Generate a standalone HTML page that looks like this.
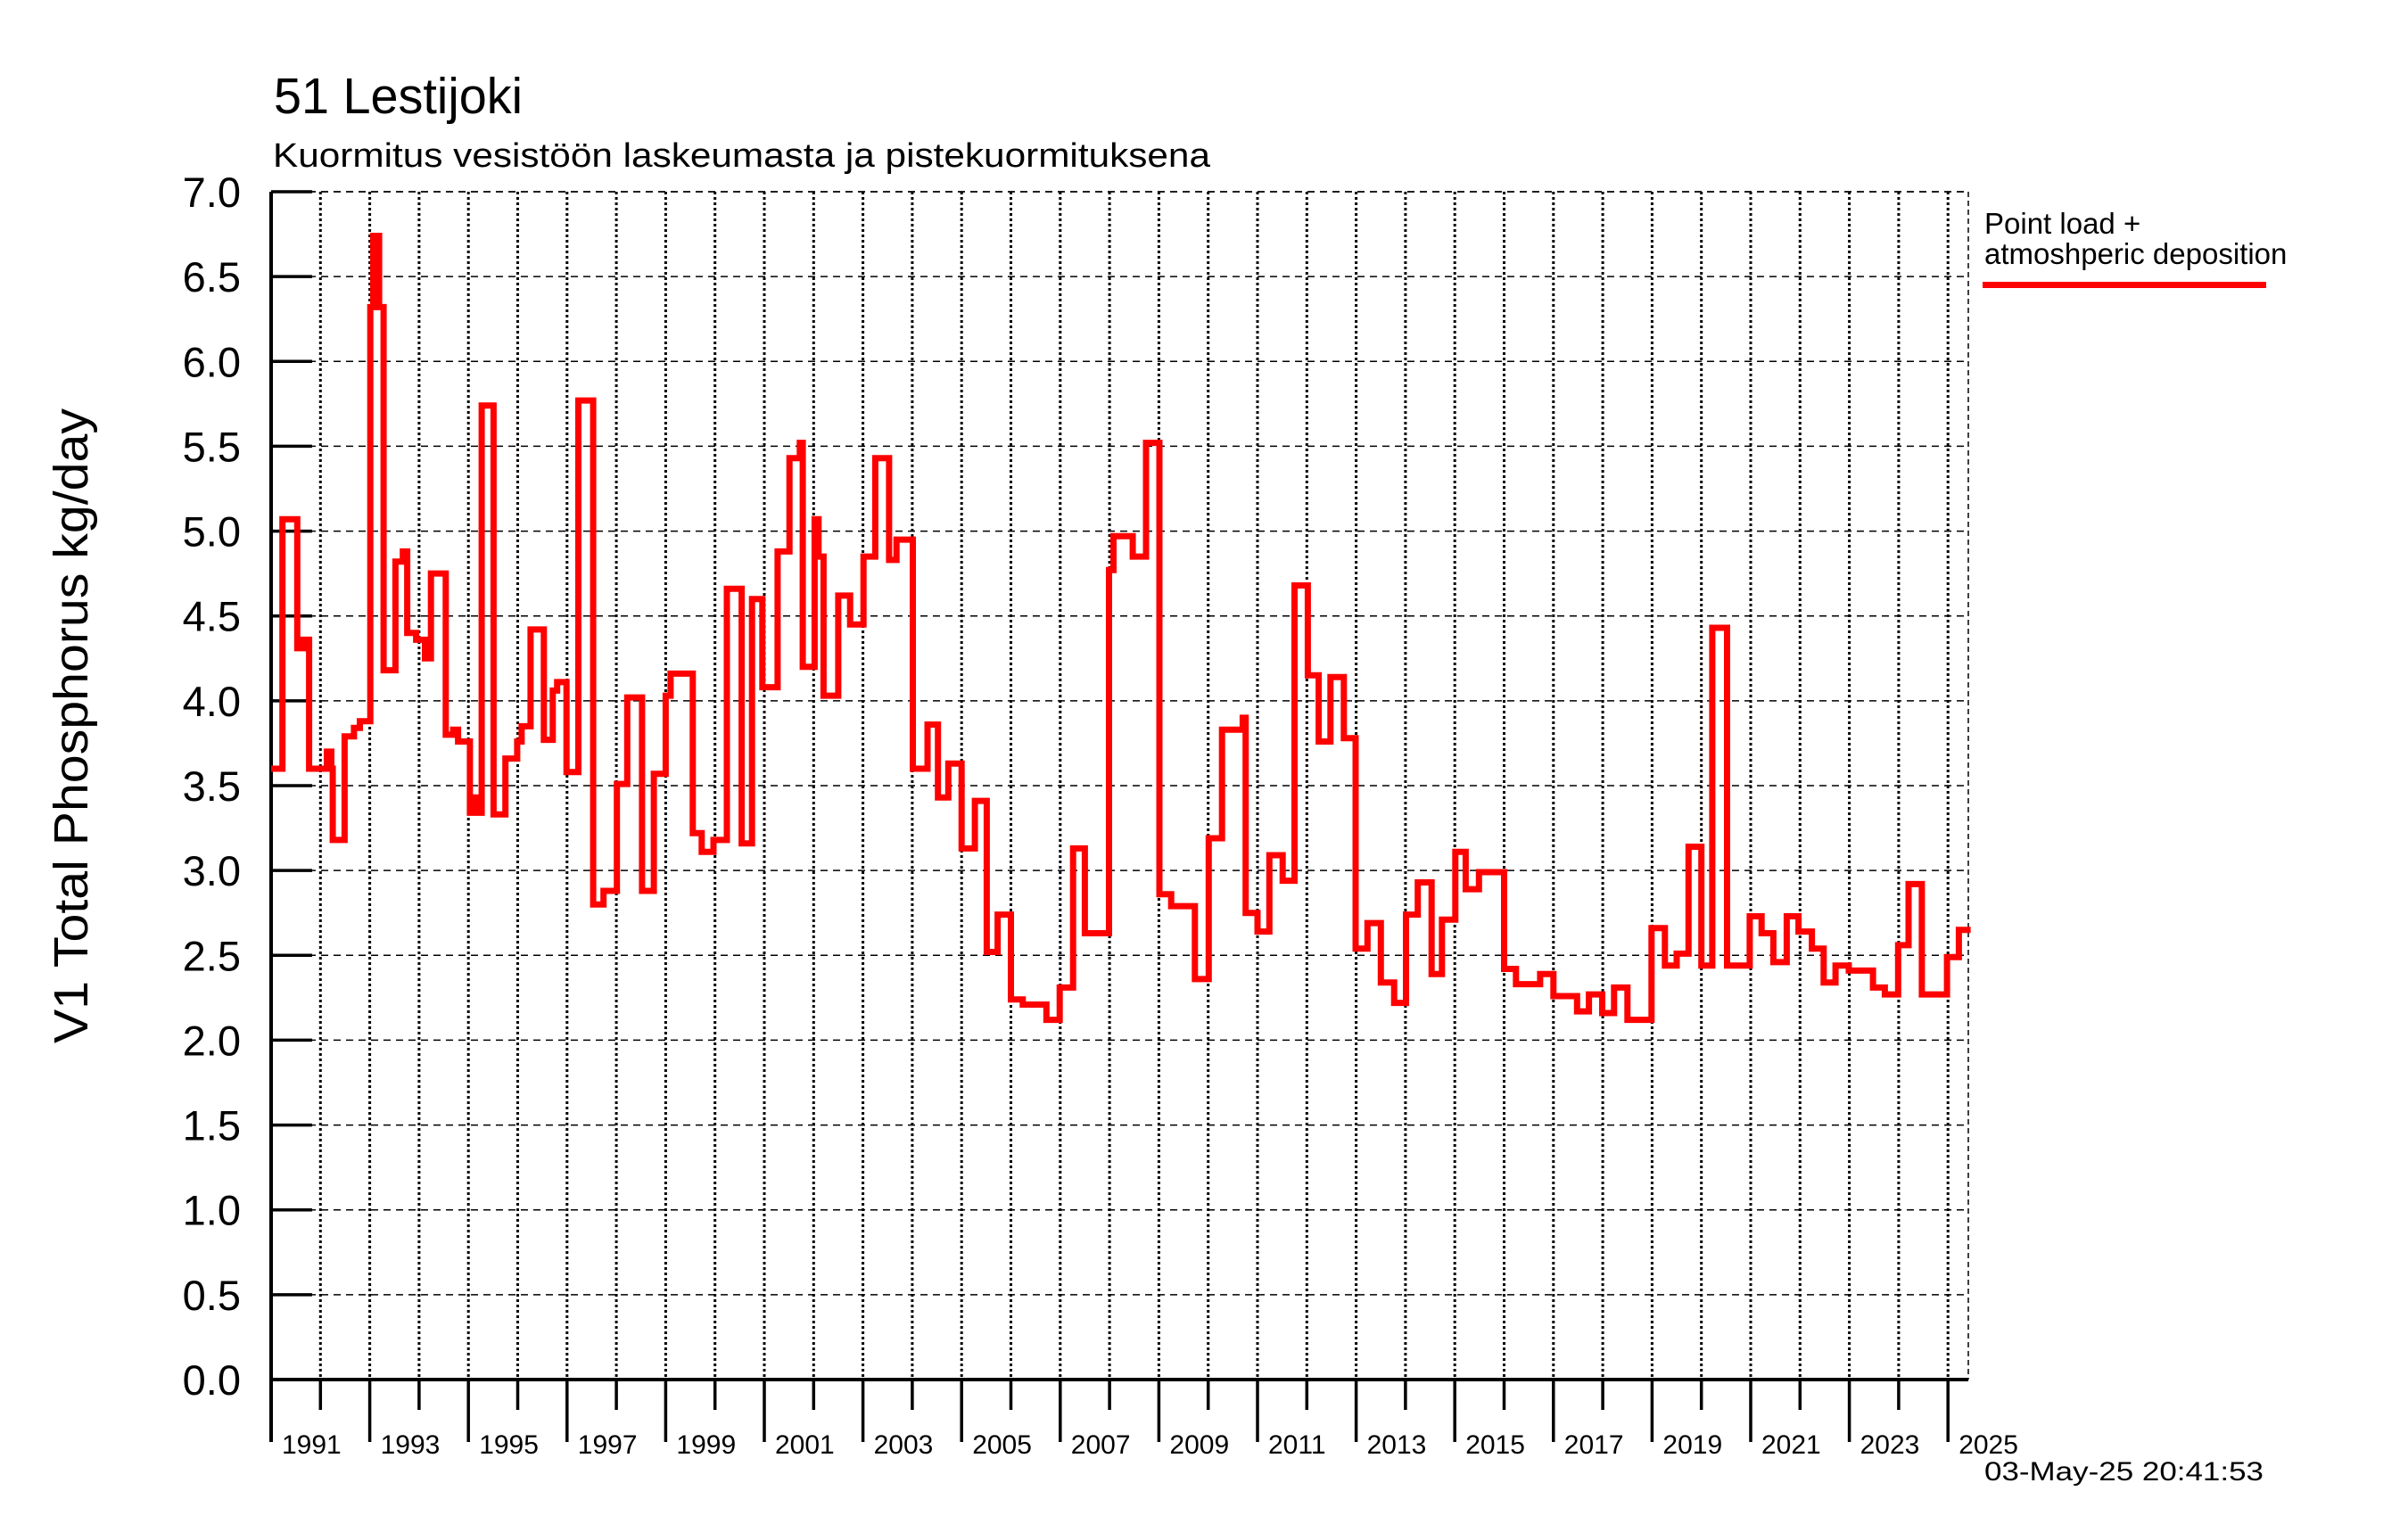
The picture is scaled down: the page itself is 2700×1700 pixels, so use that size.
<!DOCTYPE html>
<html><head><meta charset="utf-8"><style>
html,body{margin:0;padding:0;background:#fff;}
svg{display:block;font-family:"Liberation Sans",sans-serif;}
</style></head><body>
<svg id="chart" width="2700" height="1700" viewBox="0 0 2700 1700" xmlns="http://www.w3.org/2000/svg">
<rect x="0" y="0" width="2700" height="1700" fill="#fff"/>
<text x="307" y="127" font-size="57" textLength="279" lengthAdjust="spacingAndGlyphs">51 Lestijoki</text>
<text x="306" y="187" font-size="38" textLength="1051" lengthAdjust="spacingAndGlyphs">Kuormitus vesistöön laskeumasta ja pistekuormituksena</text>
<text transform="translate(98,814) rotate(-90)" text-anchor="middle" font-size="54" textLength="712" lengthAdjust="spacingAndGlyphs">V1 Total Phosphorus kg/day</text>
<g id="grid"></g>
<g id="axes"></g>
<g id="series"></g>
<g>
<text x="2225" y="262" font-size="33">Point load +</text>
<text x="2225" y="296" font-size="33">atmoshperic deposition</text>
<rect x="2223" y="316" width="318" height="7" fill="#ff0000"/>
</g>
<text x="2225" y="1660" font-size="30" textLength="313" lengthAdjust="spacingAndGlyphs">03-May-25 20:41:53</text>
</svg>
<script>
const yTicks = [0,0.5,1,1.5,2,2.5,3,3.5,4,4.5,5,5.5,6,6.5,7];
const yTickLabels = ["0.0","0.5","1.0","1.5","2.0","2.5","3.0","3.5","4.0","4.5","5.0","5.5","6.0","6.5","7.0"];
const yearTicks = [1991,1992,1993,1994,1995,1996,1997,1998,1999,2000,2001,2002,2003,2004,2005,2006,2007,2008,2009,2010,2011,2012,2013,2014,2015,2016,2017,2018,2019,2020,2021,2022,2023,2024,2025];
const stepTimes = [1991.00,1991.23,1991.53,1991.65,1991.77,1992.13,1992.22,1992.25,1992.49,1992.68,1992.80,1993.01,1993.07,1993.19,1993.28,1993.52,1993.67,1993.76,1993.94,1994.12,1994.24,1994.54,1994.69,1994.79,1995.03,1995.12,1995.21,1995.27,1995.51,1995.75,1995.99,1996.08,1996.26,1996.53,1996.71,1996.80,1996.99,1997.23,1997.53,1997.74,1998.01,1998.22,1998.52,1998.76,1999.00,1999.10,1999.55,1999.73,1999.97,2000.24,2000.54,2000.75,2000.96,2001.27,2001.51,2001.72,2001.78,2002.02,2002.10,2002.20,2002.50,2002.74,2003.01,2003.25,2003.53,2003.68,2004.01,2004.31,2004.52,2004.73,2005.00,2005.27,2005.51,2005.73,2006.00,2006.24,2006.72,2006.99,2007.26,2007.50,2007.99,2008.08,2008.47,2008.74,2009.01,2009.25,2009.73,2010.01,2010.28,2010.70,2010.76,2011.00,2011.24,2011.51,2011.75,2012.02,2012.24,2012.48,2012.75,2012.99,2013.23,2013.50,2013.77,2014.01,2014.25,2014.53,2014.74,2015.01,2015.22,2015.49,2016.00,2016.24,2016.73,2017.00,2017.48,2017.72,2017.99,2018.23,2018.50,2018.99,2019.26,2019.50,2019.74,2020.00,2020.22,2020.52,2020.98,2021.22,2021.46,2021.73,2021.97,2022.24,2022.48,2022.72,2022.99,2023.48,2023.72,2023.99,2024.20,2024.47,2024.98,2025.22];
const stepValues = [3.60,5.07,4.31,4.36,3.60,3.70,3.60,3.18,3.79,3.84,3.88,6.32,6.74,6.32,4.18,4.82,4.88,4.40,4.36,4.25,4.75,3.80,3.83,3.76,3.34,3.43,3.34,5.74,3.33,3.66,3.76,3.85,4.42,3.77,4.06,4.11,3.58,5.77,2.80,2.88,3.51,4.02,2.88,3.57,4.03,4.16,3.22,3.11,3.18,4.66,3.16,4.60,4.08,4.88,5.43,5.52,4.20,5.07,4.85,4.03,4.62,4.45,4.85,5.43,4.83,4.95,3.60,3.86,3.43,3.63,3.13,3.41,2.52,2.74,2.24,2.21,2.12,2.31,3.13,2.63,4.77,4.97,4.85,5.52,2.86,2.79,2.36,3.19,3.83,3.90,2.75,2.64,3.09,2.94,4.68,4.15,3.76,4.14,3.78,2.54,2.69,2.34,2.22,2.74,2.93,2.39,2.71,3.11,2.89,2.99,2.42,2.33,2.39,2.26,2.17,2.27,2.16,2.31,2.12,2.66,2.44,2.51,3.14,2.44,4.43,2.44,2.73,2.63,2.46,2.73,2.64,2.54,2.34,2.44,2.41,2.31,2.27,2.56,2.92,2.27,2.49,2.65];
const endTime = 2025.46;

const NS = "http://www.w3.org/2000/svg";
const L = 304, R = 2207, T = 215, B = 1547;
function xScale(yr){ return L + (yr - 1991) * 55.3; }
function yScale(v){ return B - v / 7 * (B - T); }
function mk(tag, attrs, parent){
  const e = document.createElementNS(NS, tag);
  for (const k in attrs) e.setAttribute(k, attrs[k]);
  parent.appendChild(e); return e;
}
const grid = document.getElementById('grid');
const axes = document.getElementById('axes');
const series = document.getElementById('series');

yTicks.forEach((v, i) => {
  const y = yScale(v);
  if (v > 0) {
    const g = mk('line', {x1:L, x2:R, y1:y, y2:y, stroke:'#000', 'stroke-width':1.5, 'stroke-dasharray':'8,6'}, grid);
    
    
  }
  const t = mk('line', {x1:L, x2:L+46, y1:y, y2:y, stroke:'#000', 'stroke-width':3.5}, axes);
  
  
  const lb = mk('text', {x:270, y:y+17, 'font-size':47, 'text-anchor':'end'}, axes);
  lb.textContent = yTickLabels[i];
  
  
});

yearTicks.forEach((yr) => {
  const x = xScale(yr);
  if (yr > 1991) {
    const g = mk('line', {x1:x, x2:x, y1:T, y2:B, stroke:'#000', 'stroke-width':3, 'stroke-dasharray':'3,3'}, grid);
    
    
  }
  const odd = (yr % 2) === 1;
  const t = mk('line', {x1:x, x2:x, y1:B, y2: odd ? 1617 : 1581, stroke:'#000', 'stroke-width':3.5}, axes);
  
  
  if (odd) {
    const lb = mk('text', {x:x+12, y:1630, 'font-size':30}, axes);
    lb.textContent = String(yr);
    
    
  }
});

const rb = mk('line', {x1:R, x2:R, y1:T, y2:B, stroke:'#000', 'stroke-width':1.5, 'stroke-dasharray':'6,4'}, grid);


const tb = mk('line', {x1:L, x2:R, y1:T, y2:T, stroke:'#000', 'stroke-width':1.5, 'stroke-dasharray':'8,6'}, grid);


const ya = mk('line', {x1:L, x2:L, y1:T, y2:1617, stroke:'#000', 'stroke-width':4}, axes);


const xa = mk('line', {x1:L, x2:R, y1:B, y2:B, stroke:'#000', 'stroke-width':4}, axes);



let d = '';
stepValues.forEach((v, i) => {
  const x0 = xScale(stepTimes[i]);
  const x1 = xScale(i + 1 < stepTimes.length ? stepTimes[i+1] : endTime);
  const y = yScale(v);
  d += (i === 0 ? 'M' : 'L') + x0.toFixed(1) + ',' + y.toFixed(1) + 'L' + x1.toFixed(1) + ',' + y.toFixed(1);
});
const p = mk('path', {d:d, fill:'none', stroke:'#ff0000', 'stroke-width':7, 'stroke-linejoin':'miter'}, series);


</script>
</body></html>
